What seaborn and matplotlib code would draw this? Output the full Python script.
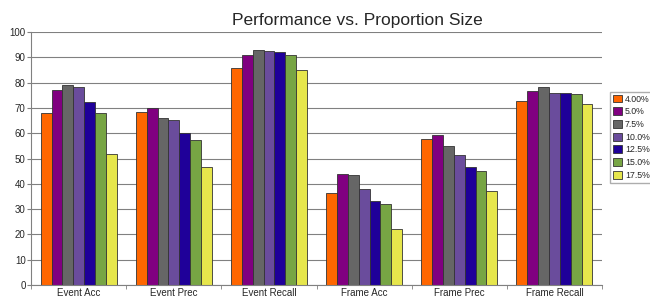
import numpy as np
import pandas as pd
import matplotlib.pyplot as plt
import seaborn as sns

metrics = ["Event Acc", "Event Prec", "Event Recall", "Frame Acc", "Frame Prec", "Frame Recall"]
sizes = ["4.00%", "5.0%", "7.5%", "10.0%", "12.5%", "15.0%", "17.5%"]
# one list per proportion size, in metric order
v_400 = [68.0, 68.4, 85.9, 36.3, 57.9, 72.7]
v_50 = [77.0, 70.0, 91.1, 43.8, 59.2, 76.9]
v_75 = [79.1, 66.0, 93.1, 43.4, 55.0, 78.1]
v_100 = [78.3, 65.4, 92.7, 37.9, 51.3, 76.1]
v_125 = [72.4, 60.1, 92.3, 33.4, 46.7, 76.1]
v_150 = [68.0, 57.3, 91.1, 31.9, 45.0, 75.4]
v_175 = [51.8, 46.8, 85.1, 22.1, 37.1, 71.4]
colors = ["#FF6600", "#800080", "#666666", "#6A4C9C", "#1F0099", "#77A544", "#E6E64C"]

all_vals = [v_400, v_50, v_75, v_100, v_125, v_150, v_175]
rows = []
for s, vals in zip(sizes, all_vals):
    for m, v in zip(metrics, vals):
        rows.append({"metric": m, "size": s, "value": v})
df = pd.DataFrame(rows)

sns.set_style("white")
plt.rcParams['font.family'] = ['Liberation Sans', 'DejaVu Sans']
fig = plt.figure(figsize=(6.5, 3), dpi=100)
ax = fig.add_axes([0.048, 0.05, 0.878, 0.843])

sns.barplot(data=df, x="metric", y="value", hue="size", order=metrics, hue_order=sizes,
            palette=colors, width=0.8, edgecolor="#333333", linewidth=0.6, saturation=1, ax=ax)

ax.set_ylim(0, 100)
ax.set_xlim(-0.5, len(metrics) - 0.5)
ax.set_yticks(range(0, 101, 10))
ax.yaxis.grid(True, color="#808080", linewidth=0.8)
ax.set_axisbelow(True)
ax.set_xlabel("")
ax.set_ylabel("")
for sp in ["top", "right"]:
    ax.spines[sp].set_visible(False)
ax.spines["left"].set_color("#808080")
ax.spines["bottom"].set_color("#808080")
ax.tick_params(axis="y", labelsize=7, length=3, color="#808080", pad=1, left=True)
ax.tick_params(axis="x", labelsize=7, length=0, pad=2)
ax.set_xticks(np.arange(-0.5, len(metrics), 1), minor=True)
ax.tick_params(axis="x", which="minor", length=3, color="#808080", bottom=True)

fig.suptitle("Performance vs. Proportion Size", fontsize=12.5, x=0.55, y=0.958)

handles, labels = ax.get_legend_handles_labels()
ax.legend_.remove()
leg = fig.legend(handles, labels, loc="upper left", bbox_to_anchor=(0.939, 0.695), fontsize=6.3,
                 frameon=True, fancybox=False, edgecolor="#999999", handlelength=1.0,
                 handleheight=1.0, handletextpad=0.3, labelspacing=0.42, borderpad=0.35,
                 borderaxespad=0)

fig.savefig("out.png", dpi=100)
